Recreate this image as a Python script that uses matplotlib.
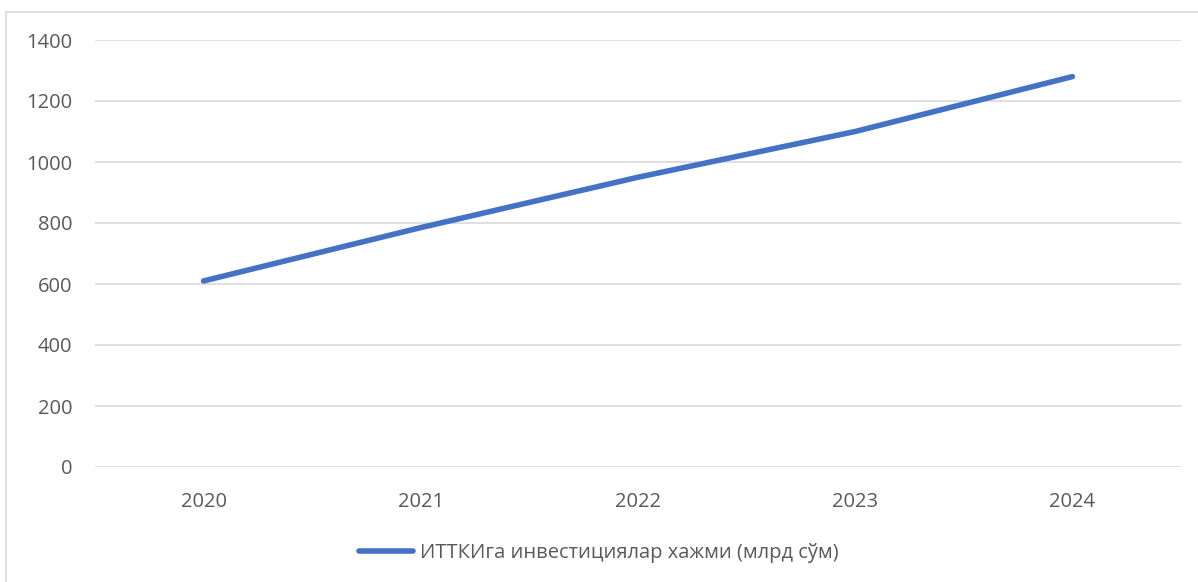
import matplotlib
matplotlib.use("Agg")
import matplotlib.pyplot as plt
from matplotlib.lines import Line2D

# data
years = ["2020", "2021", "2022", "2023", "2024"]
invest = [610, 785, 950, 1100, 1280]
y_ticks = [0, 200, 400, 600, 800, 1000, 1200, 1400]
series_label = "ИТТКИга инвестициялар хажми (млрд сўм)"

plt.rcParams['font.family'] = ['Open Sans', 'DejaVu Sans']

W, H = 1198, 582
fig = plt.figure(figsize=(W / 100, H / 100), dpi=100)

# axes placed to match plot area in the reference (pixels)
left, right, top, bottom = 95, 1181, 40, 467
ax = fig.add_axes([left / W, 1 - bottom / H, (right - left) / W, (bottom - top) / H])

x = list(range(len(years)))
ax.plot(x, invest, color='#4472C4', linewidth=4, solid_capstyle='round',
        solid_joinstyle='round', label=series_label, zorder=3)

ax.set_xlim(-0.5, len(years) - 0.5)
ax.set_ylim(0, 1400)
ax.set_yticks(y_ticks)
ax.set_xticks(x)
ax.set_xticklabels(years)

ax.grid(axis='y', color='#d9d9d9', linewidth=1.2)
ax.set_axisbelow(True)
for s in ax.spines.values():
    s.set_visible(False)
ax.tick_params(axis='both', length=0, labelsize=14.5, colors='#595959')
ax.tick_params(axis='y', pad=16.5)
ax.tick_params(axis='x', pad=18)

leg = fig.legend(loc='center', bbox_to_anchor=(0.5, 1 - 553 / H), frameon=False,
                 fontsize=14.5, handlelength=2.7, handletextpad=0.35)
for t in leg.get_texts():
    t.set_color('#595959')

# chart-area border (only left and top edges are visible in the crop)
fig.add_artist(Line2D([6 / W, 6 / W], [0, 1 - 12 / H], transform=fig.transFigure,
                      color='#d9d9d9', linewidth=1.2))
fig.add_artist(Line2D([6 / W, 1], [1 - 12 / H, 1 - 12 / H], transform=fig.transFigure,
                      color='#d9d9d9', linewidth=1.2))

fig.savefig("out.png", dpi=100, facecolor='white')
